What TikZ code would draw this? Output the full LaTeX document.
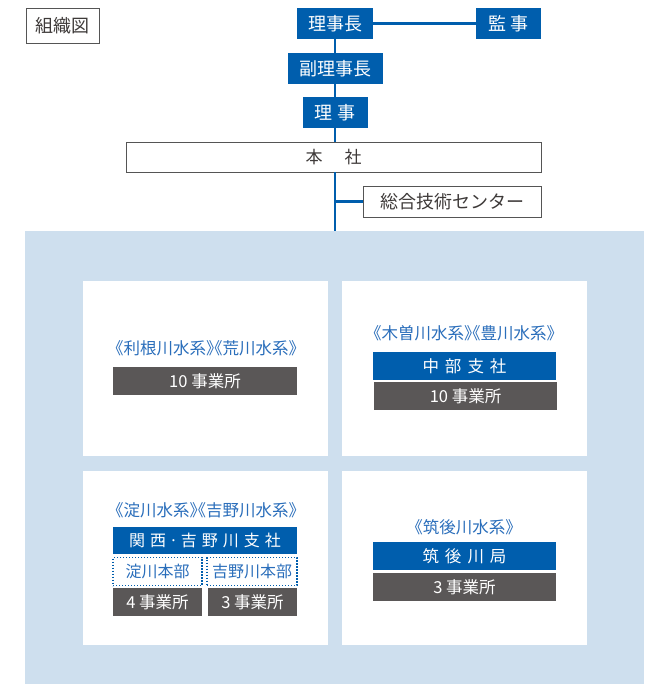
\documentclass[tikz,border=0pt]{standalone}
\usepackage{fontspec}
\setmainfont{Noto Sans CJK JP}
\definecolor{jblue}{HTML}{005EAD}
\definecolor{hblue}{HTML}{2A6EBB}
\definecolor{jgray}{HTML}{5A5757}
\definecolor{panelc}{HTML}{CEDFEE}
\definecolor{txtc}{HTML}{3E3A39}
\definecolor{edgec}{HTML}{555555}
\begin{document}
\begin{tikzpicture}[x=1pt,y=-1pt,
  topbox/.style={fill=jblue,text=white,inner sep=0pt,font=\fontsize{18}{18}\selectfont},
  outbox/.style={draw=edgec,line width=0.9pt,fill=white,text=txtc,inner sep=0pt,font=\fontsize{18}{18}\selectfont},
  conn/.style={draw=jblue,line width=2.4pt},
  subbox/.style={fill=jblue,text=white,inner sep=0pt,minimum height=28pt,font=\fontsize{16.5}{16.5}\selectfont},
  officebox/.style={fill=jgray,text=white,inner sep=0pt,minimum height=28pt,font=\fontsize{16.5}{16.5}\selectfont},
  dotbox/.style={draw=jblue,line width=1.4pt,dash pattern=on 1.3pt off 1.7pt,fill=white,text=hblue,inner sep=0pt,minimum height=28pt,font=\fontsize{16}{16}\selectfont},
  heading/.style={text=hblue,inner sep=0pt,font=\fontsize{16.5}{16.5}\selectfont\addfontfeatures{RawFeature=+halt}},
  whitecell/.style={fill=white,draw=none}]
\useasboundingbox (0,0) rectangle (652,684);
% title
\node[outbox,minimum width=73pt,minimum height=35pt] (title) at (62.5,25.5) {組織図};
% panel
\fill[panelc] (25,231) rectangle (644,684);
\coordinate (ptop) at (335,231);
\fill[whitecell] (83,281) rectangle (328,456);
\fill[whitecell] (342,281) rectangle (587,456);
\fill[whitecell] (83,471) rectangle (328,645);
\fill[whitecell] (342,471) rectangle (587,645);
% top hierarchy
\node[topbox,minimum width=76pt,minimum height=31pt] (rijicho) at (335,23.5) {理事長};
\node[topbox,minimum width=65pt,minimum height=31pt] (kanji) at (508.5,23.5) {監\hspace{5pt}事};
\node[topbox,minimum width=95pt,minimum height=31pt] (fuku) at (335,68.5) {副理事長};
\node[topbox,minimum width=65pt,minimum height=31pt] (riji) at (335,112.5) {理\hspace{5pt}事};
\node[outbox,minimum width=415pt,minimum height=30pt,font=\fontsize{17}{17}\selectfont] (honsha) at (333.5,157) {本\hspace{22pt}社};
\node[outbox,minimum width=178pt,minimum height=31pt] (center) at (452,201.5) {総合技術センター};
% connectors
\draw[conn] (rijicho.east) -- (kanji.west);
\draw[conn] (rijicho.south) -- (fuku.north);
\draw[conn] (fuku.south) -- (riji.north);
\draw[conn] (riji.south) -- (riji.south |- honsha.north);
\draw[conn] (ptop |- honsha.south) -- (ptop);
\draw[conn] (ptop |- center.west) -- (center.west);
% top-left cell
\node[heading] (h1) at (206,348) {《利根川水系》《荒川水系》};
\node[officebox,minimum width=184pt] (o1) at (205,381) {10 事業所};
% top-right cell
\node[heading] (h2) at (464,333) {《木曽川水系》《豊川水系》};
\node[subbox,minimum width=183pt] (chubu) at (464.5,366) {中\hspace{6pt}部\hspace{6pt}支\hspace{6pt}社};
\node[officebox,minimum width=183pt] (o2) at (465.5,396) {10 事業所};
% bottom-left cell
\node[heading] (h3) at (206,510) {《淀川水系》《吉野川水系》};
\node[subbox,minimum width=184pt,minimum height=27pt,font=\fontsize{16}{16}\selectfont] (kansai) at (205,540.5) {関\hspace{5pt}西\hspace{3pt}·\hspace{3pt}吉\hspace{5pt}野\hspace{5pt}川\hspace{5pt}支\hspace{5pt}社};
\node[dotbox,minimum width=89pt] (yodo) at (157.5,571.5) {淀川本部};
\node[dotbox,minimum width=90pt] (yoshino) at (252,571.5) {吉野川本部};
\node[officebox,minimum width=89pt] (o3) at (157.5,602) {4 事業所};
\node[officebox,minimum width=89pt] (o4) at (252.5,602) {3 事業所};
% bottom-right cell
\node[heading] (h4) at (464,527) {《筑後川水系》};
\node[subbox,minimum width=183pt] (chikugo) at (464.5,556) {筑\hspace{6pt}後\hspace{6pt}川\hspace{6pt}局};
\node[officebox,minimum width=183pt] (o5) at (464.5,587) {3 事業所};
\end{tikzpicture}
\end{document}
